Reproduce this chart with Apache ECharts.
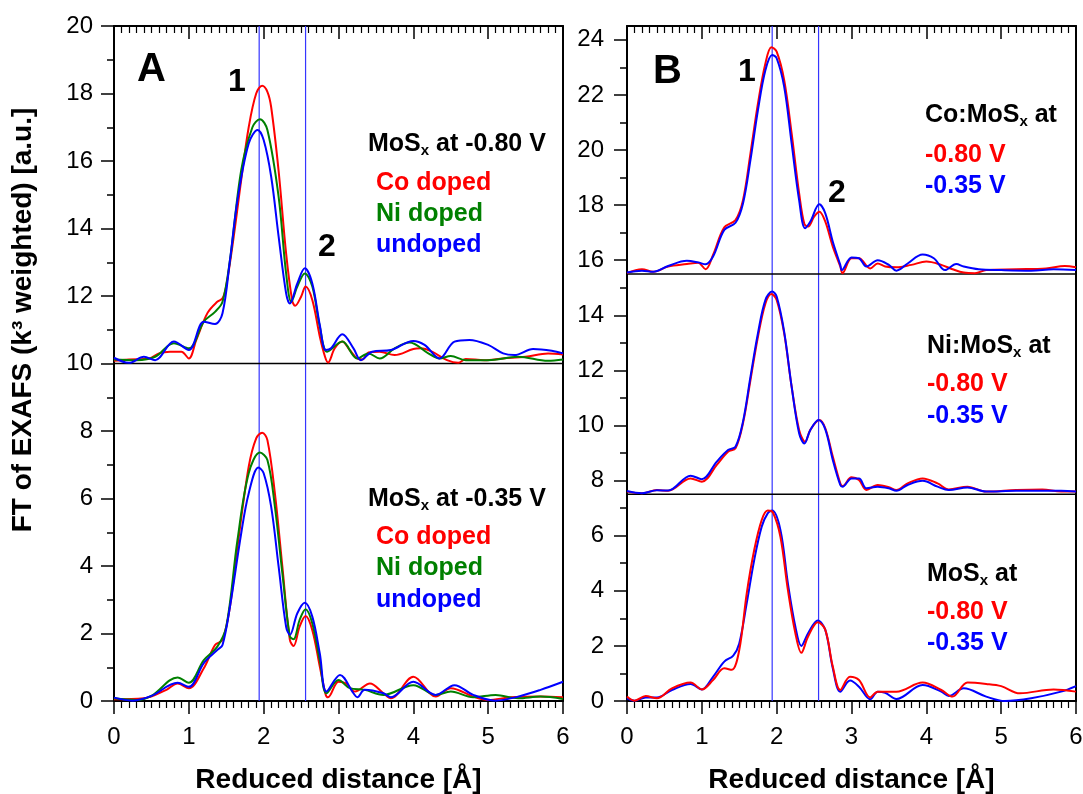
<!DOCTYPE html>
<html>
<head>
<meta charset="utf-8">
<script src="https://cdn.jsdelivr.net/npm/echarts@6/dist/echarts.min.js"></script>
<style>html,body{margin:0;padding:0;background:#fff}#c{width:1083px;height:794px}</style>
</head>
<body>
<div id="c"></div>
<script>
// ---------- DATA ----------
const xTickLabels = ['0','1','2','3','4','5','6'];
const peakPositions = [1.94, 2.56];
const sepA = [10];
const sepB = [15.5, 7.5];
const yTicksB = [0,2,4,6,8,10,12,14,16,18,20,22,24];
const yMinorB = [1,3,5,7,9,11,13,15,17,19,21,23];

// Panel A, top block (-0.80 V), offset by 10
const A_top_Co = [[0,10.08],[0.2,10.12],[0.47,10.15],[0.6,10.3],[0.75,10.35],[0.9,10.35],[1.0,10.15],[1.1,10.7],[1.25,11.5],[1.38,11.83],[1.45,11.93],[1.5,12.3],[1.6,13.76],[1.7,15.44],[1.8,17.0],[1.9,18.0],[1.98,18.23],[2.05,18.05],[2.1,17.6],[2.2,15.7],[2.3,13.26],[2.38,11.88],[2.42,11.71],[2.5,11.98],[2.56,12.28],[2.65,11.88],[2.75,10.8],[2.82,10.2],[2.86,10.03],[2.95,10.45],[3.05,10.65],[3.15,10.4],[3.25,10.15],[3.32,10.12],[3.4,10.33],[3.55,10.35],[3.75,10.25],[4.0,10.43],[4.1,10.45],[4.25,10.35],[4.45,10.1],[4.6,10.02],[4.7,10.13],[4.95,10.1],[5.2,10.15],[5.5,10.2],[5.8,10.3],[6.0,10.27]];
const A_top_Ni = [[0,10.12],[0.3,10.1],[0.55,10.2],[0.8,10.6],[1.0,10.45],[1.2,11.24],[1.35,11.53],[1.45,11.83],[1.55,13.07],[1.7,15.73],[1.85,17.0],[1.95,17.24],[2.05,16.92],[2.2,14.94],[2.3,12.67],[2.37,11.83],[2.45,12.28],[2.55,12.67],[2.65,12.28],[2.75,11.1],[2.85,10.35],[3.05,10.65],[3.25,10.15],[3.4,10.3],[3.55,10.15],[3.75,10.45],[3.95,10.62],[4.2,10.3],[4.35,10.15],[4.5,10.22],[4.7,10.1],[5.0,10.1],[5.4,10.2],[5.8,10.08],[6.0,10.12]];
const A_top_Un = [[0,10.17],[0.2,10.02],[0.4,10.2],[0.55,10.1],[0.8,10.65],[1.0,10.4],[1.2,11.24],[1.35,11.17],[1.45,11.49],[1.55,13.07],[1.65,14.84],[1.8,16.52],[1.92,16.92],[2.0,16.62],[2.1,15.54],[2.2,13.76],[2.3,12.08],[2.35,11.78],[2.45,12.37],[2.55,12.82],[2.65,12.37],[2.75,11.14],[2.83,10.4],[2.9,10.45],[3.05,10.87],[3.2,10.45],[3.3,10.1],[3.45,10.35],[3.7,10.4],[4.0,10.67],[4.15,10.55],[4.35,10.15],[4.55,10.65],[4.75,10.7],[5.0,10.55],[5.2,10.3],[5.35,10.25],[5.6,10.43],[5.85,10.38],[6.0,10.3]];

// Panel A, bottom block (-0.35 V)
const A_bot_Co = [[0,0.05],[0.4,0.08],[0.7,0.33],[0.85,0.52],[1.0,0.38],[1.2,0.97],[1.35,1.66],[1.45,1.81],[1.55,2.8],[1.65,4.57],[1.8,6.94],[1.9,7.78],[1.98,7.95],[2.05,7.73],[2.15,6.15],[2.25,3.98],[2.35,1.81],[2.4,1.63],[2.48,2.2],[2.56,2.52],[2.65,2.1],[2.75,1.02],[2.83,0.18],[2.86,0.11],[3.0,0.57],[3.1,0.52],[3.22,0.28],[3.42,0.52],[3.6,0.23],[3.7,0.08],[4.0,0.72],[4.3,0.13],[4.5,0.38],[4.8,0.13],[5.0,0.03],[5.3,0.11],[5.7,0.13],[6.0,0.11]];
const A_bot_Ni = [[0,0.08],[0.3,0.03],[0.5,0.15],[0.85,0.7],[1.0,0.54],[1.2,1.21],[1.38,1.61],[1.5,2.2],[1.65,4.77],[1.8,6.75],[1.95,7.36],[2.05,7.14],[2.15,5.76],[2.25,3.78],[2.35,1.91],[2.4,1.83],[2.48,2.4],[2.56,2.72],[2.65,2.3],[2.75,1.21],[2.84,0.23],[3.0,0.62],[3.15,0.38],[3.35,0.33],[3.6,0.18],[4.0,0.47],[4.3,0.18],[4.5,0.28],[4.8,0.11],[5.1,0.18],[5.4,0.08],[5.7,0.13],[6.0,0.06]];
const A_bot_Un = [[0,0.1],[0.25,0.01],[0.5,0.15],[0.85,0.54],[1.0,0.42],[1.2,1.12],[1.38,1.51],[1.45,1.66],[1.55,2.8],[1.7,4.97],[1.8,6.15],[1.93,6.92],[2.0,6.75],[2.1,5.76],[2.2,3.98],[2.3,2.2],[2.35,1.96],[2.45,2.6],[2.55,2.91],[2.65,2.5],[2.75,1.41],[2.84,0.28],[3.02,0.77],[3.2,0.23],[3.25,0.11],[3.35,0.33],[3.6,0.23],[3.7,0.11],[4.0,0.57],[4.3,0.18],[4.55,0.47],[4.8,0.18],[5.1,0.01],[5.4,0.13],[5.7,0.33],[6.0,0.57]];

// Panel B, Co:MoSx (offset 15.5)
const B_Co_080 = [[0,15.53],[0.2,15.67],[0.35,15.58],[0.55,15.77],[0.8,15.86],[0.95,15.91],[1.05,15.67],[1.15,16.19],[1.3,17.19],[1.45,17.46],[1.55,18.18],[1.65,19.88],[1.75,21.69],[1.85,23.15],[1.93,23.73],[2.0,23.57],[2.1,22.54],[2.2,20.6],[2.3,18.43],[2.37,17.31],[2.42,17.22],[2.5,17.58],[2.57,17.76],[2.65,17.4],[2.75,16.49],[2.85,15.77],[2.88,15.53],[3.0,16.07],[3.1,16.07],[3.25,15.7],[3.35,15.88],[3.45,15.77],[3.6,15.74],[3.8,15.83],[4.0,15.95],[4.2,15.83],[4.35,15.67],[4.5,15.55],[4.65,15.53],[4.8,15.64],[5.2,15.67],[5.6,15.7],[5.85,15.79],[6.0,15.74]];
const B_Co_035 = [[0,15.55],[0.2,15.62],[0.35,15.58],[0.55,15.79],[0.8,15.98],[0.95,15.92],[1.05,15.85],[1.15,16.13],[1.3,17.1],[1.45,17.36],[1.55,18.06],[1.65,19.64],[1.75,21.45],[1.85,22.9],[1.94,23.45],[2.0,23.33],[2.1,22.3],[2.2,20.24],[2.3,18.18],[2.38,17.16],[2.45,17.4],[2.57,18.03],[2.65,17.7],[2.75,16.67],[2.85,15.83],[2.87,15.64],[3.0,16.1],[3.1,16.07],[3.2,15.77],[3.35,16.0],[3.5,15.83],[3.6,15.62],[3.75,15.88],[3.95,16.21],[4.1,16.07],[4.25,15.64],[4.4,15.86],[4.5,15.77],[4.7,15.67],[5.0,15.64],[5.4,15.62],[5.7,15.67],[6.0,15.64]];

// Panel B, Ni:MoSx (offset 7.5)
const B_Ni_080 = [[0,7.6],[0.2,7.54],[0.4,7.66],[0.55,7.63],[0.85,8.08],[1.0,7.96],[1.2,8.57],[1.35,9.05],[1.45,9.17],[1.55,10.08],[1.65,11.65],[1.75,13.22],[1.85,14.43],[1.93,14.77],[2.0,14.56],[2.1,13.35],[2.2,11.41],[2.3,9.84],[2.38,9.41],[2.45,9.84],[2.57,10.2],[2.65,9.9],[2.75,8.87],[2.85,7.9],[2.88,7.8],[3.0,8.12],[3.1,8.02],[3.2,7.66],[3.35,7.84],[3.5,7.76],[3.6,7.66],[3.75,7.9],[3.95,8.08],[4.15,7.9],[4.3,7.68],[4.55,7.78],[4.8,7.6],[5.2,7.66],[5.55,7.68],[5.8,7.6],[6.0,7.6]];
const B_Ni_035 = [[0,7.62],[0.2,7.54],[0.4,7.65],[0.55,7.64],[0.85,8.18],[1.0,8.05],[1.2,8.69],[1.35,9.11],[1.45,9.23],[1.55,10.14],[1.65,11.77],[1.75,13.35],[1.85,14.56],[1.94,14.86],[2.0,14.68],[2.1,13.41],[2.2,11.41],[2.3,9.72],[2.37,9.35],[2.45,9.84],[2.56,10.2],[2.65,9.86],[2.75,8.75],[2.85,7.84],[2.88,7.78],[3.0,8.08],[3.1,8.08],[3.2,7.72],[3.35,7.78],[3.5,7.72],[3.6,7.63],[3.75,7.84],[3.95,7.99],[4.15,7.78],[4.3,7.66],[4.55,7.75],[4.8,7.6],[5.2,7.63],[5.55,7.63],[5.8,7.63],[6.0,7.6]];

// Panel B, MoSx (no offset)
const B_Mo_080 = [[0,0.16],[0.1,0.01],[0.25,0.18],[0.4,0.1],[0.6,0.46],[0.85,0.67],[1.0,0.42],[1.15,0.76],[1.3,1.19],[1.4,1.13],[1.5,1.85],[1.6,3.91],[1.7,5.48],[1.8,6.57],[1.88,6.91],[1.95,6.84],[2.05,5.96],[2.15,4.03],[2.25,2.46],[2.33,1.75],[2.42,2.34],[2.55,2.86],[2.65,2.58],[2.75,1.25],[2.85,0.4],[2.98,0.88],[3.1,0.76],[3.25,0.13],[3.35,0.34],[3.6,0.34],[3.95,0.67],[4.2,0.4],[4.35,0.16],[4.55,0.67],[4.8,0.62],[5.0,0.54],[5.25,0.28],[5.7,0.42],[6.0,0.34]];
const B_Mo_035 = [[0,0.1],[0.1,0.01],[0.25,0.13],[0.4,0.13],[0.6,0.4],[0.85,0.62],[1.0,0.42],[1.15,0.88],[1.3,1.43],[1.42,1.65],[1.5,2.09],[1.6,3.55],[1.7,5.12],[1.8,6.33],[1.88,6.81],[1.94,6.91],[2.05,6.21],[2.15,4.27],[2.25,2.7],[2.33,2.0],[2.42,2.46],[2.55,2.92],[2.65,2.58],[2.75,1.19],[2.85,0.34],[2.98,0.74],[3.1,0.52],[3.25,0.06],[3.35,0.34],[3.45,0.3],[3.6,0.07],[3.95,0.58],[4.2,0.34],[4.3,0.18],[4.5,0.46],[4.8,0.16],[5.05,0.0],[5.4,0.1],[5.8,0.34],[6.0,0.54]];

// ---------- CHART ----------
const FONT = '"Liberation Sans", Arial, sans-serif';
const RED = '#ff0000', GREEN = '#008000', BLUE = '#0000ff', PEAKBLUE = '#3535ff';
const Y_MAX_A = 20, Y_MAX_B = 24.5;
const chart = echarts.init(document.getElementById('c'), null, {renderer: 'canvas'});

const grids = [
  {left: 114, top: 26, width: 449, height: 675, outerBoundsMode: 'none', containLabel: false},
  {left: 627, top: 26, width: 449, height: 675, outerBoundsMode: 'none', containLabel: false}
];

function xAxes(gi) {
  return [{
    gridIndex: gi, type: 'value', min: 0, max: 6, interval: 1, position: 'bottom',
    axisLine: {show: true, onZero: false, lineStyle: {color: '#000', width: 2}},
    axisTick: {show: true, length: 13, lineStyle: {color: '#000', width: 1.5}},
    minorTick: {show: true, splitNumber: 10, length: 7, lineStyle: {color: '#000', width: 1.2}},
    axisLabel: {show: true, margin: 24, fontSize: 24, color: '#000', fontFamily: FONT,
      formatter: v => xTickLabels[Math.round(v)] ?? ''},
    splitLine: {show: false},
    name: 'Reduced distance [Å]', nameLocation: 'middle', nameGap: 65,
    nameTextStyle: {fontSize: 28, fontWeight: 'bold', color: '#000', fontFamily: FONT}
  }, {
    gridIndex: gi, type: 'value', min: 0, max: 6, interval: 1, position: 'top',
    axisLine: {show: true, onZero: false, lineStyle: {color: '#000', width: 2}},
    axisTick: {show: true, inside: true, length: 13, lineStyle: {color: '#000', width: 1.5}},
    minorTick: {show: true, splitNumber: 10, length: 7, lineStyle: {color: '#000', width: 1.2}},
    axisLabel: {show: false}, splitLine: {show: false}
  }];
}

const yAxis = [
  {gridIndex: 0, type: 'value', min: 0, max: Y_MAX_A, interval: 2, position: 'left',
   axisLine: {show: true, onZero: false, lineStyle: {color: '#000', width: 2}},
   axisTick: {show: true, length: 13, lineStyle: {color: '#000', width: 1.5}},
   minorTick: {show: true, splitNumber: 2, length: 7, lineStyle: {color: '#000', width: 1.5}},
   axisLabel: {margin: 21, fontSize: 24, color: '#000', fontFamily: FONT},
   splitLine: {show: false}},
  {gridIndex: 0, type: 'value', min: 0, max: Y_MAX_A, position: 'right',
   axisLine: {show: true, onZero: false, lineStyle: {color: '#000', width: 2}},
   axisTick: {show: false}, axisLabel: {show: false}, splitLine: {show: false}},
  {gridIndex: 1, type: 'value', min: 0, max: Y_MAX_B, position: 'left',
   axisLine: {show: true, onZero: false, lineStyle: {color: '#000', width: 2}},
   axisTick: {show: true, length: 13, customValues: yTicksB, lineStyle: {color: '#000', width: 1.5}},
   axisLabel: {margin: 23, fontSize: 24, color: '#000', fontFamily: FONT, customValues: yTicksB},
   splitLine: {show: false}},
  {gridIndex: 1, type: 'value', min: 0, max: Y_MAX_B, position: 'right',
   axisLine: {show: true, onZero: false, lineStyle: {color: '#000', width: 2}},
   axisTick: {show: false}, axisLabel: {show: false}, splitLine: {show: false}},
  {gridIndex: 1, type: 'value', min: 0, max: Y_MAX_B, position: 'left',
   axisLine: {show: false},
   axisTick: {show: true, length: 7, customValues: yMinorB, lineStyle: {color: '#000', width: 1.5}},
   axisLabel: {show: false}, splitLine: {show: false}}
];

function lineSeries(data, color, xi, yi) {
  return {
    type: 'line', data: data, xAxisIndex: xi, yAxisIndex: yi,
    showSymbol: false, symbol: 'none', smooth: 0.35,
    lineStyle: {color: color, width: 2}, itemStyle: {color: color},
    silent: true, animation: false, z: 3
  };
}
function straight(data, color, width, xi, yi) {
  return {
    type: 'line', data: data, xAxisIndex: xi, yAxisIndex: yi,
    showSymbol: false, symbol: 'none', smooth: false,
    lineStyle: {color: color, width: width, opacity: 1}, itemStyle: {color: color},
    silent: true, animation: false, z: 2
  };
}

const series = [];
peakPositions.forEach(p => {
  series.push(straight([[p, 0], [p, Y_MAX_A]], PEAKBLUE, 1.2, 0, 0));
  series.push(straight([[p, 0], [p, Y_MAX_B]], PEAKBLUE, 1.2, 2, 2));
});
sepA.forEach(s => series.push(straight([[0, s], [6, s]], '#000', 1.5, 0, 0)));
sepB.forEach(s => series.push(straight([[0, s], [6, s]], '#000', 1.5, 2, 2)));
series.push(
  lineSeries(A_top_Co, RED, 0, 0),
  lineSeries(A_top_Ni, GREEN, 0, 0),
  lineSeries(A_top_Un, BLUE, 0, 0),
  lineSeries(A_bot_Co, RED, 0, 0),
  lineSeries(A_bot_Ni, GREEN, 0, 0),
  lineSeries(A_bot_Un, BLUE, 0, 0),
  lineSeries(B_Co_080, RED, 2, 2),
  lineSeries(B_Co_035, BLUE, 2, 2),
  lineSeries(B_Ni_080, RED, 2, 2),
  lineSeries(B_Ni_035, BLUE, 2, 2),
  lineSeries(B_Mo_035, BLUE, 2, 2),
  lineSeries(B_Mo_080, RED, 2, 2)
);

function txt(x, y, text, size, color) {
  return {type: 'text', x: x, y: y, silent: true, z: 10,
    style: {text: text, fill: color || '#000', font: 'bold ' + size + 'px ' + FONT, verticalAlign: 'middle', align: 'left'}};
}
function richTxt(x, y, pre, post) {
  return {type: 'text', x: x, y: y, silent: true, z: 10,
    style: {text: '{a|' + pre + '}{s|x}{a|' + post + '}', verticalAlign: 'middle', align: 'left',
      rich: {
        a: {fontSize: 25, fontWeight: 'bold', fontFamily: FONT, fill: '#000', lineHeight: 28},
        s: {fontSize: 15, fontWeight: 'bold', fontFamily: FONT, fill: '#000', lineHeight: 28, verticalAlign: 'bottom', padding: [12, 0, 0, 0]}
      }}};
}

const graphic = [
  {type: 'text', x: 23, y: 320, rotation: Math.PI / 2, silent: true, z: 10,
   style: {text: 'FT of EXAFS (k³ weighted) [a.u.]', fill: '#000', font: 'bold 28px ' + FONT, align: 'center', verticalAlign: 'middle'}},
  txt(137, 70, 'A', 40), txt(228, 82, '1', 32), txt(318, 247, '2', 32),
  richTxt(368, 144, 'MoS', ' at -0.80 V'),
  txt(376, 183, 'Co doped', 25, RED), txt(376, 214, 'Ni doped', 25, GREEN), txt(376, 245, 'undoped', 25, BLUE),
  richTxt(368, 499, 'MoS', ' at -0.35 V'),
  txt(376, 537, 'Co doped', 25, RED), txt(376, 568, 'Ni doped', 25, GREEN), txt(376, 600, 'undoped', 25, BLUE),
  txt(653, 72, 'B', 40), txt(738, 72, '1', 32), txt(828, 193, '2', 32),
  richTxt(925, 115, 'Co:MoS', ' at'),
  txt(925, 155, '-0.80 V', 25, RED), txt(925, 186, '-0.35 V', 25, BLUE),
  richTxt(927, 346, 'Ni:MoS', ' at'),
  txt(927, 384, '-0.80 V', 25, RED), txt(927, 416, '-0.35 V', 25, BLUE),
  richTxt(927, 574, 'MoS', ' at'),
  txt(927, 612, '-0.80 V', 25, RED), txt(927, 643, '-0.35 V', 25, BLUE)
];

chart.setOption({
  animation: false,
  backgroundColor: '#fff',
  grid: grids,
  xAxis: xAxes(0).concat(xAxes(1)),
  yAxis: yAxis,
  series: series,
  graphic: graphic
});
</script>
</body>
</html>
